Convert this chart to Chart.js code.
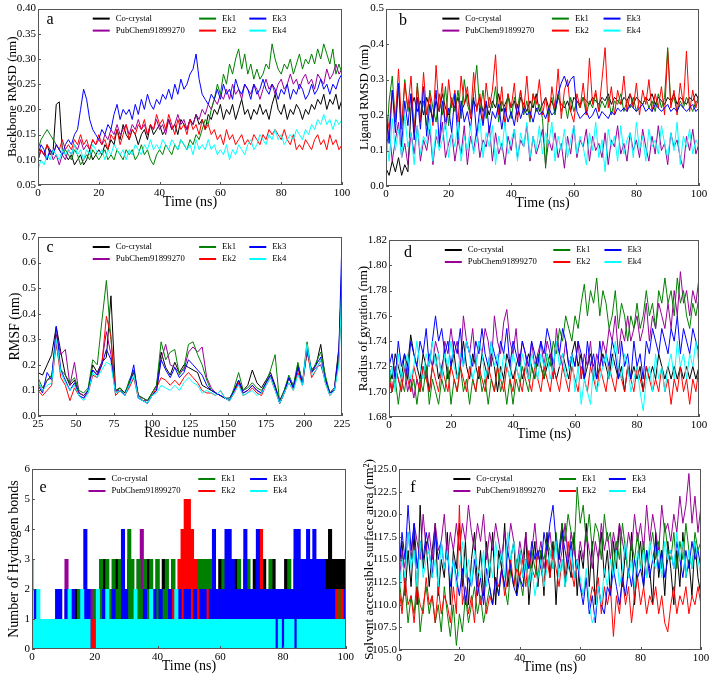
<!DOCTYPE html>
<html>
<head>
<meta charset="utf-8">
<script src="https://cdn.jsdelivr.net/npm/chart.js@4.4.1/dist/chart.umd.min.js"></script>
<style>
body { margin: 0; background: #fff; width: 712px; height: 681px; position: relative; overflow: hidden; }
canvas { position: absolute; }
</style>
</head>
<body>
<canvas id="cA" width="356" height="225" style="left:0;top:0"></canvas>
<canvas id="cB" width="360" height="225" style="left:352px;top:0"></canvas>
<canvas id="cC" width="356" height="225" style="left:0;top:225px"></canvas>
<canvas id="cD" width="360" height="225" style="left:352px;top:225px"></canvas>
<canvas id="cE" width="356" height="231" style="left:0;top:450px"></canvas>
<canvas id="cF" width="360" height="231" style="left:352px;top:450px"></canvas>
<script>
const names = ["Co-crystal", "PubChem91899270", "Ek1", "Ek2", "Ek3", "Ek4"];
const colors = ["#000000", "#990099", "#008000", "#ff0000", "#0000ff", "#00ffff"];

// time axis, 1 ns steps
const time1 = [0,1,2,3,4,5,6,7,8,9,
  10,11,12,13,14,15,16,17,18,19,
  20,21,22,23,24,25,26,27,28,29,
  30,31,32,33,34,35,36,37,38,39,
  40,41,42,43,44,45,46,47,48,49,
  50,51,52,53,54,55,56,57,58,59,
  60,61,62,63,64,65,66,67,68,69,
  70,71,72,73,74,75,76,77,78,79,
  80,81,82,83,84,85,86,87,88,89,
  90,91,92,93,94,95,96,97,98,99,
  100];
const residues = [25,28,31,34,37,40,43,46,49,52,
  55,58,61,64,67,70,73,76,79,82,
  85,88,91,94,97,100,103,106,109,112,
  115,118,121,124,127,130,133,136,139,142,
  145,148,151,154,157,160,163,166,169,172,
  175,178,181,184,187,190,193,196,199,202,
  205,208,211,214,217,220,223,225];

// a: backbone RMSD (nm)
const rmsdCo = [0.10,0.12,0.11,0.13,0.11,0.12,0.21,0.215,0.12,0.11,
  0.10,0.11,0.09,0.10,0.11,0.09,0.10,0.12,0.10,0.11,
  0.12,0.11,0.13,0.12,0.14,0.13,0.16,0.14,0.17,0.15,
  0.14,0.16,0.15,0.13,0.15,0.16,0.14,0.17,0.15,0.16,
  0.17,0.15,0.16,0.18,0.16,0.17,0.15,0.18,0.17,0.16,
  0.18,0.17,0.19,0.17,0.18,0.16,0.19,0.18,0.20,0.19,
  0.21,0.18,0.20,0.19,0.21,0.18,0.20,0.22,0.19,0.20,
  0.18,0.20,0.19,0.21,0.19,0.20,0.18,0.21,0.23,0.20,
  0.19,0.21,0.18,0.20,0.19,0.21,0.20,0.18,0.20,0.19,
  0.21,0.20,0.22,0.21,0.23,0.20,0.22,0.21,0.23,0.20,
  0.22];
const rmsdPub = [0.10,0.12,0.11,0.10,0.12,0.10,0.11,0.09,0.11,0.10,
  0.12,0.11,0.13,0.12,0.14,0.12,0.13,0.12,0.14,0.13,
  0.14,0.13,0.15,0.14,0.16,0.15,0.17,0.15,0.16,0.17,
  0.15,0.17,0.16,0.18,0.16,0.17,0.15,0.17,0.16,0.18,
  0.16,0.17,0.15,0.18,0.16,0.17,0.19,0.17,0.18,0.16,
  0.18,0.17,0.19,0.18,0.20,0.19,0.21,0.20,0.22,0.21,
  0.23,0.22,0.24,0.22,0.25,0.23,0.24,0.22,0.25,0.24,
  0.23,0.25,0.24,0.22,0.24,0.26,0.24,0.25,0.23,0.25,
  0.26,0.24,0.25,0.27,0.25,0.26,0.24,0.26,0.27,0.25,
  0.26,0.24,0.27,0.26,0.25,0.28,0.26,0.27,0.29,0.27,
  0.28];
const rmsdEk1 = [0.12,0.14,0.15,0.16,0.15,0.14,0.13,0.12,0.11,0.12,
  0.11,0.10,0.12,0.11,0.09,0.10,0.11,0.10,0.12,0.11,
  0.10,0.11,0.12,0.10,0.11,0.10,0.12,0.11,0.10,0.12,
  0.11,0.12,0.10,0.11,0.13,0.11,0.12,0.10,0.09,0.11,
  0.12,0.11,0.13,0.12,0.11,0.13,0.12,0.14,0.13,0.12,
  0.14,0.13,0.15,0.14,0.16,0.18,0.17,0.20,0.22,0.25,
  0.23,0.27,0.25,0.29,0.27,0.30,0.32,0.28,0.31,0.27,
  0.29,0.26,0.28,0.26,0.27,0.29,0.28,0.33,0.30,0.28,
  0.27,0.29,0.28,0.30,0.27,0.29,0.31,0.28,0.30,0.29,
  0.31,0.29,0.32,0.30,0.33,0.31,0.29,0.32,0.27,0.29,
  0.27];
const rmsdEk2 = [0.10,0.12,0.11,0.13,0.12,0.11,0.13,0.12,0.14,0.12,
  0.13,0.12,0.14,0.13,0.15,0.13,0.14,0.12,0.14,0.13,
  0.15,0.13,0.14,0.12,0.15,0.14,0.16,0.13,0.15,0.17,
  0.14,0.16,0.15,0.17,0.16,0.18,0.15,0.17,0.16,0.19,
  0.17,0.18,0.16,0.19,0.17,0.15,0.18,0.16,0.17,0.15,
  0.18,0.16,0.17,0.15,0.18,0.16,0.17,0.15,0.16,0.14,
  0.15,0.13,0.16,0.14,0.15,0.13,0.14,0.15,0.13,0.14,
  0.13,0.15,0.14,0.13,0.15,0.14,0.16,0.15,0.16,0.15,
  0.14,0.16,0.14,0.13,0.15,0.12,0.13,0.12,0.14,0.13,
  0.12,0.14,0.15,0.13,0.14,0.12,0.15,0.13,0.14,0.12,
  0.13];
const rmsdEk3 = [0.11,0.13,0.12,0.10,0.12,0.11,0.13,0.12,0.11,0.13,
  0.14,0.13,0.15,0.16,0.20,0.24,0.22,0.18,0.16,0.15,
  0.14,0.16,0.15,0.17,0.16,0.19,0.21,0.18,0.20,0.19,
  0.20,0.18,0.21,0.19,0.22,0.20,0.23,0.21,0.20,0.22,
  0.21,0.23,0.22,0.24,0.22,0.25,0.23,0.26,0.24,0.25,
  0.27,0.28,0.31,0.26,0.23,0.22,0.21,0.23,0.22,0.24,
  0.22,0.25,0.23,0.24,0.22,0.26,0.24,0.23,0.25,0.24,
  0.22,0.25,0.23,0.24,0.26,0.24,0.23,0.25,0.24,0.22,
  0.24,0.23,0.25,0.22,0.24,0.23,0.25,0.24,0.22,0.23,
  0.25,0.23,0.24,0.26,0.24,0.25,0.23,0.25,0.24,0.26,
  0.27];
const rmsdEk4 = [0.08,0.10,0.09,0.11,0.10,0.12,0.11,0.10,0.12,0.11,
  0.12,0.11,0.13,0.11,0.12,0.10,0.12,0.11,0.13,0.12,
  0.11,0.12,0.10,0.12,0.11,0.13,0.12,0.11,0.12,0.10,
  0.12,0.11,0.13,0.12,0.11,0.13,0.12,0.14,0.12,0.13,
  0.12,0.14,0.13,0.12,0.14,0.13,0.12,0.14,0.13,0.12,
  0.13,0.11,0.14,0.12,0.13,0.12,0.14,0.12,0.13,0.11,
  0.12,0.11,0.13,0.10,0.12,0.11,0.13,0.12,0.11,0.13,
  0.14,0.12,0.13,0.15,0.14,0.13,0.15,0.14,0.16,0.14,
  0.15,0.13,0.14,0.15,0.14,0.16,0.15,0.14,0.16,0.15,
  0.17,0.16,0.18,0.17,0.19,0.17,0.18,0.16,0.18,0.17,
  0.18];

// b: ligand RMSD (nm)
const ligCo = [0.05,0.03,0.07,0.04,0.08,0.03,0.06,0.04,0.22,0.25,
  0.21,0.24,0.20,0.25,0.22,0.19,0.24,0.21,0.26,0.22,
  0.20,0.24,0.22,0.25,0.21,0.23,0.26,0.20,0.24,0.22,
  0.25,0.21,0.23,0.20,0.24,0.22,0.26,0.21,0.23,0.25,
  0.22,0.24,0.20,0.25,0.23,0.21,0.24,0.22,0.26,0.21,
  0.23,0.25,0.22,0.24,0.21,0.25,0.23,0.22,0.24,0.21,
  0.25,0.24,0.23,0.25,0.24,0.23,0.25,0.24,0.23,0.25,
  0.24,0.26,0.23,0.25,0.24,0.23,0.25,0.24,0.26,0.23,
  0.25,0.24,0.23,0.25,0.24,0.26,0.23,0.25,0.24,0.23,
  0.25,0.24,0.26,0.23,0.25,0.24,0.23,0.25,0.24,0.26,
  0.24];
const ligPub = [0.10,0.16,0.07,0.13,0.18,0.08,0.12,0.06,0.15,0.09,
  0.17,0.07,0.13,0.10,0.16,0.06,0.14,0.11,0.18,0.08,
  0.12,0.15,0.07,0.13,0.09,0.17,0.06,0.14,0.10,0.16,
  0.08,0.13,0.11,0.17,0.07,0.15,0.09,0.12,0.06,0.14,
  0.10,0.16,0.08,0.13,0.11,0.17,0.07,0.14,0.09,0.12,
  0.16,0.06,0.13,0.10,0.15,0.08,0.12,0.05,0.14,0.09,
  0.17,0.08,0.13,0.11,0.16,0.07,0.14,0.10,0.12,0.08,
  0.15,0.06,0.13,0.11,0.17,0.09,0.12,0.07,0.15,0.10,
  0.13,0.08,0.16,0.11,0.07,0.14,0.09,0.17,0.10,0.12,
  0.06,0.15,0.11,0.13,0.08,0.05,0.14,0.10,0.16,0.09,
  0.12];
const ligEk1 = [0.10,0.24,0.31,0.18,0.28,0.16,0.30,0.21,0.26,0.15,
  0.29,0.19,0.24,0.17,0.27,0.22,0.18,0.26,0.20,0.28,
  0.17,0.25,0.21,0.27,0.19,0.30,0.23,0.20,0.26,0.34,
  0.21,0.27,0.19,0.25,0.22,0.28,0.18,0.24,0.21,0.26,
  0.19,0.25,0.22,0.27,0.20,0.24,0.18,0.26,0.21,0.23,
  0.19,0.05,0.22,0.25,0.20,0.26,0.21,0.24,0.19,0.25,
  0.21,0.24,0.22,0.25,0.20,0.24,0.22,0.26,0.21,0.24,
  0.22,0.25,0.20,0.24,0.23,0.26,0.21,0.24,0.22,0.25,
  0.21,0.24,0.23,0.25,0.22,0.24,0.21,0.26,0.22,0.25,
  0.39,0.23,0.25,0.21,0.24,0.22,0.25,0.23,0.21,0.24,
  0.23];
const ligEk2 = [0.21,0.16,0.27,0.19,0.33,0.17,0.29,0.22,0.31,0.15,
  0.28,0.18,0.32,0.20,0.26,0.17,0.34,0.21,0.29,0.16,
  0.30,0.22,0.27,0.18,0.31,0.23,0.28,0.19,0.32,0.21,
  0.26,0.18,0.29,0.22,0.27,0.37,0.20,0.28,0.17,0.26,
  0.22,0.29,0.18,0.27,0.21,0.31,0.19,0.26,0.23,0.30,
  0.20,0.25,0.18,0.28,0.22,0.33,0.19,0.27,0.30,0.21,
  0.18,0.26,0.22,0.29,0.20,0.36,0.23,0.27,0.21,0.30,
  0.39,0.22,0.28,0.20,0.27,0.23,0.31,0.21,0.26,0.22,
  0.29,0.20,0.27,0.23,0.30,0.21,0.26,0.22,0.28,0.20,
  0.38,0.22,0.27,0.20,0.29,0.23,0.38,0.21,0.27,0.22,
  0.26];
const ligEk3 = [0.20,0.12,0.27,0.15,0.29,0.11,0.24,0.17,0.26,0.13,
  0.25,0.16,0.28,0.14,0.23,0.18,0.27,0.12,0.24,0.17,
  0.22,0.15,0.26,0.13,0.24,0.18,0.21,0.16,0.25,0.14,
  0.22,0.17,0.24,0.15,0.21,0.19,0.23,0.16,0.22,0.18,
  0.21,0.17,0.23,0.19,0.22,0.20,0.21,0.18,0.22,0.20,
  0.21,0.19,0.22,0.20,0.21,0.26,0.29,0.31,0.28,0.30,
  0.31,0.21,0.19,0.20,0.21,0.19,0.20,0.22,0.19,0.21,
  0.20,0.19,0.21,0.20,0.22,0.21,0.22,0.21,0.23,0.22,
  0.21,0.22,0.23,0.21,0.22,0.21,0.23,0.22,0.21,0.22,
  0.23,0.21,0.22,0.21,0.23,0.22,0.21,0.22,0.23,0.21,
  0.22];
const ligEk4 = [0.14,0.07,0.19,0.10,0.16,0.08,0.20,0.11,0.15,0.06,
  0.17,0.09,0.14,0.12,0.19,0.07,0.16,0.10,0.13,0.18,
  0.08,0.15,0.11,0.18,0.07,0.14,0.10,0.17,0.09,0.13,
  0.19,0.08,0.15,0.11,0.17,0.06,0.14,0.10,0.18,0.09,
  0.13,0.16,0.07,0.15,0.11,0.18,0.08,0.14,0.10,0.17,
  0.09,0.15,0.12,0.18,0.07,0.14,0.10,0.16,0.08,0.13,
  0.17,0.09,0.14,0.11,0.06,0.15,0.10,0.18,0.08,0.13,
  0.04,0.16,0.11,0.14,0.07,0.17,0.09,0.13,0.15,0.08,
  0.18,0.10,0.14,0.07,0.16,0.11,0.13,0.09,0.17,0.12,
  0.08,0.15,0.10,0.18,0.06,0.14,0.11,0.16,0.09,0.13,
  0.11];

// c: RMSF (nm) per residue
const rmsfCo = [0.17,0.16,0.20,0.24,0.35,0.25,0.16,0.12,0.14,0.09,
  0.08,0.10,0.20,0.17,0.21,0.23,0.47,0.10,0.11,0.09,
  0.13,0.17,0.08,0.07,0.06,0.09,0.12,0.25,0.19,0.16,
  0.21,0.17,0.20,0.19,0.18,0.17,0.12,0.11,0.10,0.09,
  0.08,0.07,0.07,0.10,0.14,0.10,0.12,0.18,0.13,0.11,
  0.14,0.17,0.12,0.06,0.10,0.15,0.11,0.20,0.13,0.25,
  0.18,0.20,0.28,0.15,0.09,0.11,0.27,0.56];
const rmsfPub = [0.13,0.10,0.14,0.15,0.32,0.24,0.26,0.12,0.21,0.09,
  0.08,0.10,0.18,0.16,0.21,0.33,0.24,0.10,0.10,0.08,
  0.12,0.18,0.08,0.06,0.06,0.08,0.10,0.22,0.28,0.20,
  0.19,0.17,0.18,0.25,0.27,0.25,0.27,0.15,0.11,0.09,
  0.08,0.07,0.06,0.09,0.13,0.09,0.10,0.12,0.10,0.09,
  0.13,0.16,0.11,0.05,0.09,0.15,0.11,0.19,0.12,0.26,
  0.17,0.19,0.20,0.14,0.09,0.10,0.24,0.60];
const rmsfEk1 = [0.15,0.11,0.14,0.16,0.28,0.18,0.16,0.13,0.15,0.10,
  0.09,0.11,0.22,0.20,0.37,0.53,0.30,0.09,0.11,0.08,
  0.14,0.18,0.08,0.07,0.06,0.09,0.12,0.29,0.22,0.25,
  0.26,0.16,0.19,0.28,0.29,0.24,0.20,0.14,0.10,0.09,
  0.08,0.07,0.06,0.11,0.17,0.10,0.11,0.13,0.11,0.10,
  0.13,0.18,0.24,0.05,0.10,0.16,0.12,0.21,0.13,0.29,
  0.17,0.21,0.25,0.16,0.09,0.10,0.22,0.62];
const rmsfEk2 = [0.10,0.08,0.10,0.12,0.29,0.15,0.12,0.06,0.11,0.08,
  0.07,0.09,0.16,0.15,0.20,0.39,0.31,0.08,0.10,0.08,
  0.11,0.15,0.07,0.06,0.05,0.08,0.11,0.15,0.14,0.12,
  0.14,0.12,0.15,0.17,0.15,0.13,0.10,0.09,0.09,0.08,
  0.10,0.07,0.06,0.09,0.13,0.08,0.09,0.11,0.09,0.08,
  0.12,0.15,0.10,0.05,0.09,0.13,0.10,0.17,0.12,0.26,
  0.15,0.18,0.22,0.13,0.08,0.10,0.24,0.50];
const rmsfEk3 = [0.12,0.09,0.17,0.14,0.35,0.18,0.14,0.10,0.13,0.08,
  0.07,0.10,0.18,0.16,0.20,0.26,0.22,0.09,0.10,0.08,
  0.12,0.20,0.07,0.06,0.05,0.08,0.10,0.22,0.18,0.15,
  0.19,0.15,0.17,0.22,0.20,0.18,0.16,0.12,0.10,0.09,
  0.08,0.07,0.06,0.10,0.14,0.09,0.10,0.12,0.10,0.09,
  0.13,0.16,0.11,0.05,0.09,0.15,0.11,0.19,0.13,0.27,
  0.17,0.20,0.23,0.14,0.09,0.10,0.26,0.70];
const rmsfEk4 = [0.14,0.10,0.12,0.13,0.30,0.17,0.13,0.10,0.12,0.08,
  0.06,0.09,0.17,0.15,0.18,0.21,0.20,0.09,0.10,0.08,
  0.12,0.16,0.07,0.06,0.05,0.08,0.09,0.12,0.11,0.10,
  0.12,0.10,0.13,0.15,0.13,0.12,0.09,0.10,0.09,0.08,
  0.10,0.07,0.06,0.09,0.12,0.08,0.09,0.10,0.08,0.09,
  0.12,0.15,0.10,0.05,0.09,0.13,0.10,0.16,0.12,0.28,
  0.16,0.18,0.22,0.13,0.08,0.10,0.20,0.52];

// d: radius of gyration (nm)
const rgCo = [1.72,1.71,1.73,1.72,1.71,1.73,1.72,1.745,1.73,1.72,
  1.71,1.73,1.72,1.70,1.72,1.73,1.71,1.72,1.73,1.71,
  1.72,1.73,1.71,1.72,1.74,1.72,1.71,1.73,1.72,1.71,
  1.73,1.72,1.71,1.73,1.72,1.70,1.72,1.71,1.73,1.72,
  1.71,1.72,1.73,1.71,1.72,1.73,1.72,1.71,1.73,1.72,
  1.71,1.72,1.73,1.72,1.71,1.72,1.73,1.72,1.71,1.73,
  1.74,1.72,1.73,1.71,1.72,1.73,1.72,1.71,1.72,1.73,
  1.72,1.71,1.73,1.72,1.71,1.72,1.70,1.72,1.71,1.72,
  1.71,1.72,1.70,1.72,1.71,1.72,1.71,1.73,1.72,1.71,
  1.72,1.71,1.72,1.71,1.72,1.71,1.72,1.71,1.72,1.71,
  1.72];
const rgPub = [1.71,1.70,1.72,1.71,1.70,1.72,1.70,1.71,1.695,1.71,
  1.70,1.72,1.71,1.73,1.72,1.74,1.73,1.71,1.74,1.73,
  1.75,1.73,1.74,1.72,1.76,1.74,1.73,1.75,1.72,1.74,
  1.73,1.75,1.74,1.72,1.76,1.74,1.73,1.755,1.765,1.74,
  1.73,1.75,1.72,1.74,1.73,1.71,1.74,1.72,1.73,1.74,
  1.72,1.74,1.73,1.71,1.75,1.73,1.72,1.74,1.72,1.73,
  1.72,1.74,1.71,1.73,1.72,1.74,1.71,1.73,1.72,1.74,
  1.73,1.75,1.74,1.76,1.73,1.75,1.74,1.76,1.74,1.75,
  1.76,1.74,1.75,1.77,1.74,1.76,1.75,1.77,1.76,1.75,
  1.77,1.75,1.78,1.76,1.795,1.77,1.78,1.76,1.78,1.77,
  1.79];
const rgEk1 = [1.72,1.70,1.71,1.69,1.71,1.70,1.72,1.70,1.71,1.69,
  1.71,1.70,1.72,1.69,1.71,1.70,1.69,1.71,1.70,1.72,
  1.69,1.71,1.70,1.72,1.70,1.71,1.69,1.71,1.70,1.72,
  1.70,1.71,1.69,1.71,1.70,1.72,1.70,1.71,1.69,1.71,
  1.69,1.71,1.70,1.72,1.71,1.70,1.72,1.71,1.73,1.72,
  1.71,1.73,1.72,1.74,1.73,1.75,1.74,1.76,1.75,1.74,
  1.76,1.75,1.77,1.785,1.76,1.78,1.77,1.79,1.76,1.78,
  1.77,1.75,1.76,1.78,1.75,1.77,1.76,1.74,1.76,1.75,
  1.77,1.75,1.76,1.78,1.76,1.77,1.75,1.78,1.77,1.79,
  1.77,1.78,1.76,1.79,1.77,1.78,1.76,1.75,1.77,1.76,
  1.775];
const rgEk2 = [1.71,1.70,1.72,1.71,1.70,1.72,1.71,1.70,1.72,1.71,
  1.70,1.72,1.71,1.70,1.72,1.71,1.70,1.72,1.71,1.70,
  1.72,1.71,1.70,1.72,1.71,1.70,1.72,1.71,1.70,1.72,
  1.71,1.70,1.72,1.71,1.70,1.72,1.71,1.70,1.72,1.71,
  1.70,1.72,1.71,1.70,1.72,1.71,1.70,1.72,1.71,1.70,
  1.72,1.71,1.70,1.72,1.71,1.70,1.72,1.71,1.70,1.72,
  1.71,1.70,1.72,1.71,1.70,1.72,1.71,1.70,1.72,1.71,
  1.70,1.72,1.71,1.70,1.72,1.71,1.70,1.72,1.71,1.70,
  1.72,1.71,1.70,1.72,1.71,1.70,1.71,1.70,1.72,1.70,
  1.71,1.69,1.71,1.70,1.72,1.70,1.71,1.69,1.71,1.70,
  1.72];
const rgEk3 = [1.72,1.73,1.71,1.74,1.72,1.73,1.71,1.74,1.73,1.72,
  1.74,1.73,1.75,1.72,1.74,1.76,1.74,1.75,1.73,1.74,
  1.72,1.74,1.73,1.75,1.72,1.74,1.73,1.72,1.74,1.73,
  1.75,1.73,1.72,1.74,1.73,1.72,1.74,1.73,1.75,1.72,
  1.74,1.73,1.72,1.74,1.73,1.72,1.74,1.73,1.72,1.74,
  1.73,1.75,1.74,1.72,1.74,1.73,1.75,1.74,1.72,1.73,
  1.72,1.74,1.73,1.71,1.74,1.72,1.73,1.71,1.74,1.72,
  1.73,1.72,1.74,1.73,1.71,1.74,1.72,1.73,1.71,1.74,
  1.72,1.73,1.71,1.74,1.73,1.75,1.74,1.73,1.75,1.74,
  1.73,1.75,1.74,1.76,1.73,1.75,1.74,1.73,1.75,1.74,
  1.73];
const rgEk4 = [1.71,1.72,1.70,1.73,1.71,1.72,1.73,1.71,1.72,1.74,
  1.72,1.71,1.73,1.72,1.74,1.72,1.73,1.71,1.73,1.72,
  1.74,1.72,1.71,1.73,1.72,1.74,1.73,1.71,1.72,1.74,
  1.73,1.71,1.72,1.74,1.72,1.73,1.71,1.73,1.72,1.71,
  1.73,1.72,1.71,1.73,1.72,1.71,1.73,1.72,1.71,1.73,
  1.72,1.73,1.71,1.72,1.74,1.72,1.73,1.71,1.72,1.73,
  1.70,1.72,1.69,1.71,1.70,1.69,1.72,1.70,1.71,1.72,
  1.73,1.71,1.72,1.74,1.72,1.71,1.73,1.72,1.70,1.71,
  1.72,1.70,1.685,1.71,1.72,1.70,1.73,1.71,1.72,1.70,
  1.72,1.73,1.71,1.74,1.72,1.73,1.71,1.73,1.72,1.74,
  1.72];

// e: number of hydrogen bonds
const hbCo = [1,1,0,1,1,1,0,1,1,1,
  1,1,2,1,2,1,2,2,1,2,
  2,1,2,3,2,1,2,3,2,2,
  2,3,2,2,3,2,2,3,2,2,
  2,2,3,2,2,3,2,2,3,2,
  2,2,3,3,3,3,2,3,3,2,
  3,2,2,3,2,3,2,2,3,2,
  2,3,2,2,3,2,2,3,2,2,
  2,3,2,2,3,2,3,2,3,3,
  3,3,3,3,3,4,3,3,3,3,
  3];
const hbPub = [1,1,1,1,1,1,1,1,1,1,
  1,3,1,2,1,1,2,1,1,2,
  1,2,2,1,2,2,1,2,2,1,
  2,2,1,2,2,4,2,1,2,2,
  3,2,2,1,2,2,2,1,2,2,
  2,2,1,2,2,2,2,1,2,2,
  2,1,2,2,2,2,1,2,2,2,
  2,2,2,1,2,2,2,2,1,2,
  2,2,1,2,2,2,2,1,2,2,
  2,2,2,2,2,2,2,2,2,2,
  2];
const hbEk1 = [1,1,1,1,1,1,1,1,1,1,
  1,1,2,1,1,2,1,2,1,1,
  2,2,3,2,3,2,3,2,3,3,
  2,4,3,2,3,2,3,2,3,2,
  3,2,2,3,2,3,2,2,3,2,
  2,2,3,3,3,3,3,3,3,2,
  2,3,2,3,2,2,3,2,2,3,
  2,2,3,2,2,2,3,2,2,2,
  2,2,3,2,2,2,2,2,2,2,
  2,2,2,2,2,2,2,2,2,2,
  2];
const hbEk2 = [1,1,1,1,1,1,1,1,1,1,
  1,1,1,1,1,1,1,1,1,1,
  1,1,1,1,1,1,1,1,1,1,
  1,1,1,1,1,1,1,1,1,1,
  1,1,1,1,1,2,1,3,4,5,
  5,4,3,2,2,1,2,1,2,2,
  1,2,1,2,1,2,1,2,2,1,
  2,1,2,4,2,1,2,1,2,1,
  2,1,2,1,2,2,1,2,1,2,
  2,1,2,1,2,2,1,2,1,2,
  1];
const hbEk3 = [1,2,1,1,1,1,1,1,2,2,
  1,2,1,2,1,1,2,4,2,0,
  0,1,1,2,1,1,2,1,1,4,
  2,1,1,2,1,1,2,1,1,2,
  1,2,1,1,2,1,1,2,1,2,
  2,1,2,1,2,2,1,2,4,2,
  2,2,4,4,3,2,2,2,4,2,
  2,2,4,2,2,2,2,2,2,2,
  2,2,2,2,4,4,3,3,4,3,
  4,3,3,3,2,2,2,1,1,1,
  2];
const hbEk4 = [3,1,2,1,1,1,1,1,1,1,
  1,1,2,1,1,1,2,1,1,0,
  0,2,1,1,2,1,1,1,1,1,
  1,1,1,2,1,1,1,1,2,1,
  1,1,1,1,1,1,2,1,1,1,
  1,1,1,1,1,1,1,1,1,1,
  1,1,1,1,1,1,1,1,1,1,
  1,1,1,1,1,1,1,1,0,1,
  0,1,1,1,0,1,1,1,1,1,
  1,1,1,1,1,1,1,1,1,1,
  1];

// f: solvent accessible surface area (nm^2)
const sasaCo = [114,117,111,116,112,118,110,121,114,117,
  112,116,119,111,115,113,118,110,116,114,
  119,112,117,110,115,118,112,116,111,117,
  113,118,110,116,114,119,112,115,117,111,
  116,113,118,110,114,117,112,116,111,118,
  113,117,110,116,119,112,115,113,118,111,
  116,114,119,112,117,110,115,118,113,116,
  111,117,114,119,112,116,113,118,110,115,
  117,112,116,114,110,118,113,116,111,117,
  114,110,116,112,118,113,115,111,117,113,
  111];
const sasaPub = [112,116,114,118,115,119,117,115,120,116,
  118,115,119,116,117,120,115,118,116,119,
  116,119,117,121,118,116,119,117,120,115,
  118,116,119,117,115,118,116,119,117,114,
  117,115,118,114,116,119,115,117,114,116,
  118,115,117,114,116,119,115,118,116,114,
  117,115,118,116,114,117,115,119,116,118,
  115,118,116,119,117,115,118,116,120,117,
  119,116,121,117,120,118,116,121,118,119,
  117,120,118,122,119,121,124.5,119,122,118,
  121];
const sasaEk1 = [113,110,112,108,111,109,113,107,110,112,
  109,111,108,110,107,112,109,106.5,110,105.5,
  109,107,111,108,110,112,109,111,108,110,
  112,110,113,111,114,112,110,114,112,115,
  113,111,115,112,116,114,113,116,115,117,
  116,114,118,115,119,117,120,118,116,123,
  119,121,117,120,116,119,118,115,120,117,
  118,114,117,115,119,116,113,117,115,118,
  114,117,113,116,118,115,117,114,119,116,
  115,118,114,117,115,119,116,114,118,116,
  117];
const sasaEk2 = [112,109,113,110,111,108,112,110,109,113,
  110,111,108,112,109,111,110,108,112,109,
  121,110,112,109,111,108,113,110,112,109,
  111,110,113,112,114,111,113,115,112,114,
  113,115,112,116,114,113,116,114,112,115,
  113,116,114,112,115,113,117,114,112,115,
  112,111,113,110,112,111,113,109,112,110,
  112,106.5,111,109,113,110,112,108,111,113,
  110,112,109,111,110,112,109,111,108,107,
  110,112,109,111,110,112,109,111,110,112,
  110];
const sasaEk3 = [114,118,115,121,116,119,114,117,115,118,
  116,113,118,115,117,114,116,112,115,113,
  111,114,110,113,112,115,111,113,110,114,
  112,110,113,111,114,112,116,114,112,111,
  113,112,115,114,117,115,116,114,118,116,
  119,121,117,115,118,116,114,117,113,115,
  112,110,113,109,111,108,112,110,109,112,
  111,114,112,110,113,111,114,112,115,113,
  114,112,116,113,115,117,114,116,113,115,
  116,114,117,115,113,116,114,117,115,116,
  114];
const sasaEk4 = [111,115,113,118,114,116,112,117,113,115,
  116,113,115,112,117,114,116,113,115,112,
  114,117,113,115,112,116,114,113,116,112,
  115,113,117,114,116,113,118,115,117,114,
  116,113,115,112,114,111,113,115,112,114,
  116,114,117,113,115,112,114,116,113,115,
  113,111,114,110,108,109,112,110,114,112,
  115,113,116,112,114,117,113,115,112,116,
  114,116,113,117,115,114,116,113,117,115,
  116,114,118,115,117,113,116,114,117,115,
  113];

const serif = '"Liberation Serif", "DejaVu Serif", serif';
Chart.defaults.font.family = serif;
Chart.defaults.color = "#000";

// frame, inner ticks, panel letter and in-plot legend
const deco = {
  id: "deco",
  afterDatasetsDraw(chart, args, o) {
    const ctx = chart.ctx, a = chart.chartArea;
    ctx.save();
    ctx.strokeStyle = "#555";
    ctx.lineWidth = 1;
    ctx.strokeRect(Math.round(a.left) + 0.5, Math.round(a.top) + 0.5, Math.round(a.width) - 1, Math.round(a.height) - 1);
    ctx.beginPath();
    chart.scales.x.ticks.forEach(t => {
      const px = Math.round(chart.scales.x.getPixelForValue(t.value)) + 0.5;
      ctx.moveTo(px, a.bottom);
      ctx.lineTo(px, a.bottom - 3);
    });
    chart.scales.y.ticks.forEach(t => {
      const py = Math.round(chart.scales.y.getPixelForValue(t.value)) + 0.5;
      ctx.moveTo(a.left, py);
      ctx.lineTo(a.left + 3, py);
    });
    ctx.stroke();
    ctx.fillStyle = "#000";
    ctx.textBaseline = "middle";
    ctx.textAlign = "center";
    ctx.font = "16px " + serif;
    ctx.fillText(o.letter, a.left + o.lx, a.top + o.ly);
    ctx.textAlign = "left";
    ctx.font = "8.7px " + serif;
    const cols = [0.18, 0.53, 0.695];
    chart.data.datasets.forEach((ds, i) => {
      const x = a.left + cols[Math.floor(i / 2)] * a.width;
      const y = a.top + 10 + (i % 2) * 12;
      ctx.strokeStyle = ds.borderColor;
      ctx.lineWidth = 2;
      ctx.beginPath();
      ctx.moveTo(x, y);
      ctx.lineTo(x + 17, y);
      ctx.stroke();
      ctx.fillText(ds.label, x + 23, y);
    });
    ctx.restore();
  }
};

function panel(id, o) {
  const sets = o.series.map((vals, i) => ({
    label: names[i],
    data: vals.map((v, j) => ({ x: o.x[j], y: v })),
    borderColor: colors[i],
    backgroundColor: colors[i],
    borderWidth: o.type === "bar" ? 0 : 1,
    pointRadius: 0,
    order: 6 - i,
    grouped: false,
    barPercentage: 1.3,
    categoryPercentage: 1
  }));
  const [left, top, right, bottom] = o.box;
  new Chart(document.getElementById(id), {
    type: o.type || "line",
    data: { datasets: sets },
    options: {
      responsive: false,
      animation: false,
      layout: { autoPadding: false, padding: { left: 0, top: top, right: o.W - right, bottom: o.H - bottom - 31 } },
      plugins: {
        legend: { display: false },
        tooltip: { enabled: false },
        deco: { letter: o.letter, lx: o.lpos[0], ly: o.lpos[1] }
      },
      scales: {
        x: {
          type: "linear", offset: false,
          min: o.xr[0], max: o.xr[1],
          ticks: { stepSize: o.xr[2], padding: 2, font: { size: 11 }, maxRotation: 0 },
          grid: { display: false, drawTicks: false },
          border: { display: false },
          title: { display: true, text: o.xt, font: { size: 14 }, padding: { top: 0, bottom: 5 } },
          afterFit: s => { s.height = 31; }
        },
        y: {
          min: o.yr[0], max: o.yr[1],
          ticks: { stepSize: o.yr[2], padding: 2, font: { size: 11 }, callback: v => v.toFixed(o.yr[3]) },
          grid: { display: false, drawTicks: false },
          border: { display: false },
          title: { display: true, text: o.yt, font: { size: o.ytSize }, padding: { top: o.ytPad, bottom: 0 } },
          afterFit: s => { s.width = left; }
        }
      }
    },
    plugins: [deco]
  });
}

panel("cA", { W: 356, H: 225, box: [38, 8, 342, 185], letter: "a", lpos: [12, 11],
  x: time1, xr: [0, 100, 20], yr: [0.05, 0.40, 0.05, 2], xt: "Time (ns)", yt: "Backbone RMSD (nm)", ytSize: 13, ytPad: 5,
  series: [rmsdCo, rmsdPub, rmsdEk1, rmsdEk2, rmsdEk3, rmsdEk4] });
panel("cB", { W: 360, H: 225, box: [34, 7, 347, 186], letter: "b", lpos: [17, 12],
  x: time1, xr: [0, 100, 20], yr: [0, 0.5, 0.1, 1], xt: "Time (ns)", yt: "Ligand RMSD (nm)", ytSize: 13, ytPad: 5,
  series: [ligCo, ligPub, ligEk1, ligEk2, ligEk3, ligEk4] });
panel("cC", { W: 356, H: 225, box: [38, 12, 342, 191], letter: "c", lpos: [12, 11],
  x: residues, xr: [25, 225, 25], yr: [0, 0.7, 0.1, 1], xt: "Residue number", yt: "RMSF (nm)", ytSize: 14, ytPad: 7,
  series: [rmsfCo, rmsfPub, rmsfEk1, rmsfEk2, rmsfEk3, rmsfEk4] });
panel("cD", { W: 360, H: 225, box: [37, 15, 347, 192], letter: "d", lpos: [19, 13],
  x: time1, xr: [0, 100, 20], yr: [1.68, 1.82, 0.02, 2], xt: "Time (ns)", yt: "Radius of gyration (nm)", ytSize: 13, ytPad: 4,
  series: [rgCo, rgPub, rgEk1, rgEk2, rgEk3, rgEk4] });
panel("cE", { W: 356, H: 231, box: [32, 19, 348, 199], letter: "e", type: "bar", lpos: [11, 19],
  x: time1, xr: [0, 100, 20], yr: [0, 6, 1, 0], xt: "Time (ns)", yt: "Number of Hydrogen bonds", ytSize: 14, ytPad: 6,
  series: [hbCo, hbPub, hbEk1, hbEk2, hbEk3, hbEk4] });
panel("cF", { W: 360, H: 231, box: [47, 19, 349, 200], letter: "f", lpos: [14, 19],
  x: time1, xr: [0, 100, 20], yr: [105, 125, 2.5, 1], xt: "Time (ns)", yt: "Solvent accessible surface area (nm²)", ytSize: 13.5, ytPad: 9,
  series: [sasaCo, sasaPub, sasaEk1, sasaEk2, sasaEk3, sasaEk4] });
</script>
</body>
</html>
